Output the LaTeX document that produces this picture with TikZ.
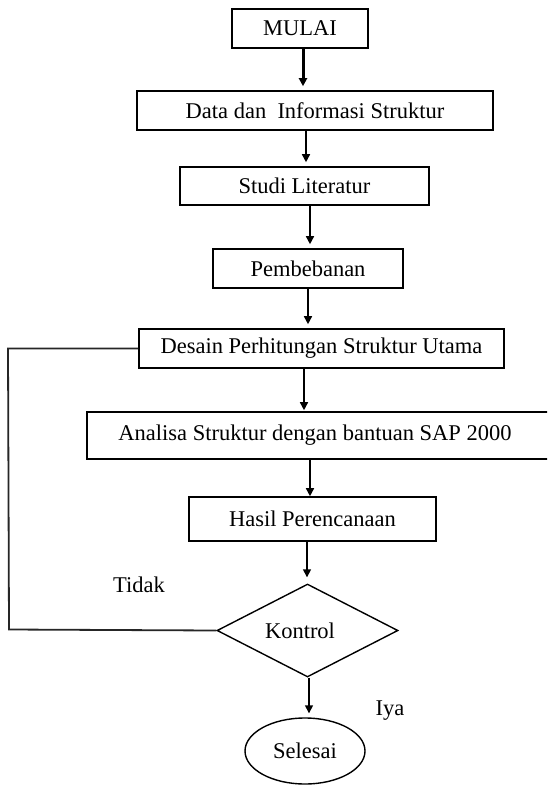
\documentclass[tikz,border=0pt]{standalone}
\usepackage{fontspec}
\setmainfont{Liberation Serif}
\usetikzlibrary{shapes.geometric,arrows.meta}
\tikzset{
  box/.style={draw, line width=1.6pt, rectangle, inner sep=0pt, font=\fontsize{22.5}{27}\selectfont},
  arr/.style={line width=1.5pt, -{Triangle[length=8pt,width=8pt]}, shorten >=4pt},
  loopline/.style={draw=black!85, line width=1.8pt},
  lbl/.style={inner sep=0pt, font=\fontsize{22.5}{27}\selectfont}
}
\begin{document}
\begin{tikzpicture}[x=1pt,y=-1pt]
\useasboundingbox (0,0) rectangle (547,785);
\clip (0,0) rectangle (547,785);
\fill[white] (0,0) rectangle (547,785);
\node[box, minimum width=136pt, minimum height=39pt] (mulai) at (300,28.5) {MULAI};
\node[box, minimum width=356pt, minimum height=39pt] (data) at (315,110.5) {Data dan\ \ Informasi Struktur};
\node[box, minimum width=249pt, minimum height=38pt] (studi) at (304.5,186) {Studi Literatur};
\node[box, minimum width=190pt, minimum height=39pt] (pemb) at (308,268.5) {Pembebanan};
\node[box, minimum width=365pt, minimum height=39pt] (desain) at (321.5,348.5) {Desain Perhitungan Struktur Utama};
\node[box, minimum width=466pt, minimum height=47pt] (analisa) at (320,435.5) {\hspace*{-10pt}Analisa Struktur dengan bantuan SAP 2000};
\node[box, minimum width=247pt, minimum height=44pt] (hasil) at (312.5,519) {Hasil Perencanaan};
\node[box, shape=diamond, line width=1.4pt, minimum width=181pt, minimum height=93pt] (kontrol) at (307.5,630.5) {\hspace*{-15pt}Kontrol};
\node[box, shape=ellipse, line width=1.4pt, minimum width=120pt, minimum height=66pt] (selesai) at (305,751) {Selesai};
\node[lbl] (tidak) at (139,585) {Tidak};
\node[lbl] (iya) at (390,711) {Iya};

\draw[arr, line width=3pt] (mulai.south -| 303,0) -- (data.north -| 303,0);
\draw[arr] (data.south -| 306,0) -- (studi.north -| 306,0);
\draw[arr] (studi.south -| 310,0) -- (pemb.north -| 310,0);
\draw[arr] (pemb.south -| 308,0) -- (desain.north -| 308,0);
\draw[arr, shorten >=1pt] (desain.south -| 304,0) -- (analisa.north -| 304,0);
\draw[arr, shorten >=0pt] (analisa.south -| 310,0) -- (hasil.north -| 310,0);
\draw[arr, shorten >=6pt] (hasil.south -| 307,0) -- (kontrol.north -| 307,0);
\draw[arr] (kontrol.south -| 309,0) -- (selesai.north -| 309,0);

\coordinate (lt) at (8,348.5);
\coordinate (lb) at (9,629.5);
\draw[loopline] (desain.west) -- (lt) -- (lb) -- (kontrol.west);
\end{tikzpicture}
\end{document}
